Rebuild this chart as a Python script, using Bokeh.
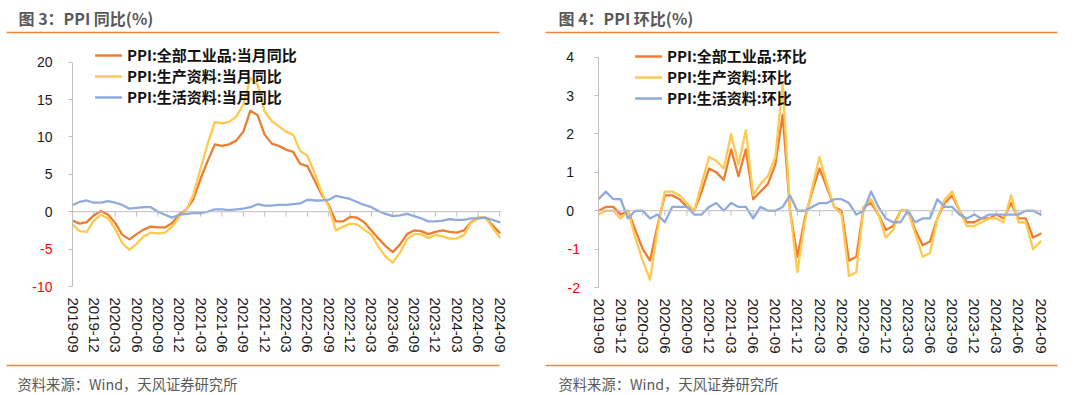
from bokeh.plotting import figure
from bokeh.layouts import row, column
from bokeh.models import (Range1d, FixedTicker, Span, Legend, LegendItem, Label,
                          BoxAnnotation)
from bokeh.embed import file_html
from bokeh.resources import INLINE
from bokeh.core.properties import value

# ---------------- data ----------------
tick_labels = ["2019-09", "2019-12", "2020-03", "2020-06", "2020-09", "2020-12",
               "2021-03", "2021-06", "2021-09", "2021-12", "2022-03", "2022-06",
               "2022-09", "2022-12", "2023-03", "2023-06", "2023-09", "2023-12",
               "2024-03", "2024-06", "2024-09"]

yoy_all = [-1.2, -1.6, -1.4, -0.5, 0.1, -0.4, -1.5, -3.1, -3.7, -3.0,
           -2.4, -2.0, -2.1, -2.1, -1.5, -0.4, 0.3, 1.7, 4.4, 6.8,
           9.0, 8.8, 9.0, 9.5, 10.7, 13.5, 12.9, 10.3, 9.1, 8.8,
           8.3, 8.0, 6.4, 6.1, 4.2, 2.3, 0.9, -1.3, -1.3, -0.7,
           -0.8, -1.4, -2.5, -3.6, -4.6, -5.4, -4.4, -3.0, -2.5, -2.6,
           -3.0, -2.7, -2.5, -2.7, -2.8, -2.5, -1.4, -0.8, -0.8, -1.8, -2.8]
yoy_prod = [-1.7, -2.6, -2.7, -1.2, -0.4, -0.9, -2.3, -4.2, -5.1, -4.3,
            -3.3, -2.8, -2.9, -2.8, -2.0, -0.7, 0.3, 2.3, 5.8, 9.1,
            12.0, 11.8, 12.0, 12.7, 14.3, 17.9, 17.0, 13.4, 12.1, 11.4,
            10.7, 10.3, 8.1, 7.5, 5.2, 2.6, 0.7, -2.5, -2.0, -1.6,
            -1.7, -2.4, -3.1, -4.7, -6.0, -6.8, -5.5, -3.7, -3.0, -3.0,
            -3.5, -3.1, -3.3, -3.6, -3.6, -3.1, -1.5, -0.9, -0.8, -2.1, -3.4]
yoy_cons = [0.9, 1.3, 1.5, 1.2, 1.2, 1.4, 1.2, 0.9, 0.4, 0.5,
            0.6, 0.6, 0.0, -0.4, -0.8, -0.4, -0.3, -0.2, -0.2, 0.0,
            0.3, 0.3, 0.2, 0.3, 0.4, 0.6, 1.0, 0.8, 0.8, 0.9,
            0.9, 1.0, 1.1, 1.6, 1.5, 1.5, 1.6, 2.1, 1.9, 1.7,
            1.3, 0.9, 0.6, 0.1, -0.3, -0.6, -0.5, -0.3, -0.6, -0.9,
            -1.3, -1.3, -1.2, -1.0, -1.1, -1.1, -0.9, -0.9, -0.8, -1.1, -1.4]

mom_all = [0.0, 0.1, 0.1, -0.1, 0.0, -0.5, -1.0, -1.3, -0.4, 0.4,
           0.4, 0.3, 0.1, 0.0, 0.5, 1.1, 1.0, 0.8, 1.6, 0.9,
           1.6, 0.3, 0.5, 0.7, 1.2, 2.5, 0.0, -1.2, -0.2, 0.5,
           1.1, 0.6, 0.1, 0.0, -1.3, -1.2, 0.1, 0.2, -0.1, -0.5,
           -0.4, 0.0, 0.0, -0.5, -0.9, -0.8, -0.2, 0.2, 0.4, 0.0,
           -0.3, -0.3, -0.2, -0.2, -0.1, -0.2, 0.2, -0.2, -0.2, -0.7, -0.6]
mom_prod = [-0.1, 0.0, 0.0, -0.2, 0.0, -0.7, -1.3, -1.8, -0.5, 0.5,
            0.5, 0.4, 0.2, 0.0, 0.7, 1.4, 1.3, 1.1, 2.0, 1.2,
            2.1, 0.4, 0.7, 0.9, 1.4, 3.3, 0.0, -1.6, -0.3, 0.6,
            1.4, 0.7, 0.1, -0.1, -1.7, -1.6, 0.1, 0.3, -0.1, -0.7,
            -0.5, 0.0, 0.0, -0.6, -1.2, -1.1, -0.2, 0.3, 0.5, 0.0,
            -0.4, -0.4, -0.3, -0.2, -0.2, -0.3, 0.4, -0.3, -0.3, -1.0, -0.8]
mom_cons = [0.3, 0.5, 0.3, 0.3, -0.2, 0.0, 0.0, -0.2, -0.1, -0.3,
            0.1, 0.1, 0.1, -0.1, -0.1, 0.1, 0.2, 0.0, 0.2, 0.1,
            0.1, -0.2, 0.1, 0.0, 0.0, 0.1, 0.4, 0.0, 0.0, 0.1,
            0.2, 0.2, 0.3, 0.3, 0.2, -0.1, 0.0, 0.5, 0.1, -0.2,
            -0.3, -0.3, 0.0, -0.3, -0.2, -0.2, 0.3, 0.1, 0.1, -0.1,
            -0.2, -0.1, -0.2, -0.1, -0.1, -0.1, -0.1, -0.1, 0.0, 0.0, -0.1]

yoy_names = ["PPI:全部工业品:当月同比", "PPI:生产资料:当月同比", "PPI:生活资料:当月同比"]
mom_names = ["PPI:全部工业品:环比", "PPI:生产资料:环比", "PPI:生活资料:环比"]
yoy_ticks = [-10, -5, 0, 5, 10, 15, 20]
mom_ticks = [-2, -1, 0, 1, 2, 3, 4]
source_text = "资料来源：Wind，天风证券研究所"

COLORS = ["#ED7D31", "#FFC94F", "#8FAADC"]
ORANGE_RULE = "#F0883A"
GREY = "#595959"
CJK = "Noto Sans CJK SC"
LATIN = "Liberation Sans"

PANEL_W = 540
HEAD_H = 40
MAIN_H = 320
FOOT_H = 35


def blank(width, height):
    p = figure(width=width, height=height, output_backend="svg", toolbar_location=None,
               x_range=Range1d(0, width), y_range=Range1d(height, 0),
               x_axis_type=None, y_axis_type=None, min_border=0,
               outline_line_color=None, border_fill_color="white",
               background_fill_color="white")
    p.grid.visible = False
    return p


def header(title, title_x, rule_l, rule_r):
    p = blank(PANEL_W, HEAD_H)
    p.add_layout(Label(x=title_x, y=17, text=title, text_font=CJK, text_font_size="16px",
                       text_font_style="bold", text_color=GREY,
                       text_align="left", text_baseline="middle"))
    p.add_layout(BoxAnnotation(left=rule_l, right=rule_r, top=31.2, bottom=32.8,
                               fill_color=ORANGE_RULE, fill_alpha=1, line_alpha=0))
    return p


def footer(text_x, rule_l, rule_r):
    p = blank(PANEL_W, FOOT_H)
    p.add_layout(BoxAnnotation(left=rule_l, right=rule_r, top=4.2, bottom=5.8,
                               fill_color=ORANGE_RULE, fill_alpha=1, line_alpha=0))
    p.add_layout(Label(x=text_x, y=23, text=source_text, text_font=CJK,
                       text_font_size="14.3px", text_color=GREY,
                       text_align="left", text_baseline="middle"))
    return p


def chart(series, names, yticks, ylo, ytop, ppu, strip_w, frame_left, frame_w,
          ylo_px, lab_size, pos_right, neg_right, leg_x, leg_top):
    # pixel rows are measured inside this chart block (block starts at page y=HEAD_H)
    frame_top = 0
    pad = 8                                  # frame extends a little below the lowest tick
    frame_bottom = ylo_px + pad
    y0 = ylo - pad / ppu
    y1 = ylo + (ylo_px - frame_top) / ppu
    main_w = PANEL_W - strip_w
    bl = frame_left - strip_w
    br = main_w - bl - frame_w
    bt = frame_top
    bb = MAIN_H - frame_bottom
    n = len(series[0])
    xs = list(range(n))
    ticks = list(range(0, n, 3))
    x_end = frame_w / ((frame_w - 2) / (n - 1))
    yr = Range1d(y0, y1)

    p = figure(width=main_w, height=MAIN_H, output_backend="svg", toolbar_location=None,
               x_range=Range1d(0, x_end), y_range=yr,
               min_border_left=bl, min_border_right=br, min_border_top=bt,
               min_border_bottom=bb, outline_line_color=None,
               background_fill_color="white", border_fill_color="white")
    p.grid.visible = False

    xa = p.xaxis[0]
    xa.ticker = FixedTicker(ticks=ticks)
    xa.major_label_overrides = {t: lab for t, lab in zip(ticks, tick_labels)}
    xa.major_label_orientation = "vertical"
    xa.axis_line_color = None
    xa.major_tick_line_color = None
    xa.minor_tick_line_color = None
    xa.major_tick_out = 0
    xa.major_tick_in = 0
    xa.major_label_standoff = 11 - pad
    xa.major_label_text_font = LATIN
    xa.major_label_text_font_size = "15px"
    xa.major_label_text_color = "#1a1a1a"

    ya = p.yaxis[0]
    ya.ticker = FixedTicker(ticks=yticks)
    ya.bounds = (ylo, ytop)
    ya.major_label_overrides = {t: "" for t in yticks}
    ya.major_label_standoff = 0
    ya.axis_line_color = "#BFBFBF"
    ya.major_tick_line_color = "#BFBFBF"
    ya.minor_tick_line_color = None
    ya.major_tick_out = 4
    ya.major_tick_in = 0

    p.add_layout(Span(location=0, dimension="width", line_color="#BFBFBF", line_width=1))
    tick_len = 5 / ppu
    p.segment(x0=ticks, y0=[0] * len(ticks), x1=ticks, y1=[-tick_len] * len(ticks),
              line_color="#BFBFBF", line_width=1)

    rends = []
    for ys, c in zip(series, COLORS):
        rends.append(p.line(xs, ys, line_color=c, line_width=2.3,
                            line_join="round", line_cap="round"))

    leg = Legend(items=[LegendItem(label=nm, renderers=[r]) for nm, r in zip(names, rends)],
                 location=(leg_x, frame_bottom - (leg_top + 60)), orientation="vertical",
                 glyph_width=27, glyph_height=20, label_height=20, spacing=0,
                 padding=0, margin=0, label_standoff=5,
                 border_line_alpha=0, background_fill_alpha=0,
                 label_text_font=CJK, label_text_font_style="bold",
                 label_text_font_size="15px", label_text_color="#111111")
    p.add_layout(leg)

    # strip carrying the y tick labels (negatives in red), same vertical scale
    s = figure(width=strip_w, height=MAIN_H, output_backend="svg", toolbar_location=None,
               x_range=Range1d(0, strip_w), y_range=yr,
               x_axis_type=None, y_axis_type=None,
               min_border_left=0, min_border_right=0, min_border_top=bt,
               min_border_bottom=bb, outline_line_color=None,
               background_fill_color="white", border_fill_color="white")
    s.grid.visible = False
    pos = [t for t in yticks if t >= 0]
    neg = [t for t in yticks if t < 0]
    s.text(x=[pos_right] * len(pos), y=pos, text=[str(t) for t in pos],
           text_color="#1a1a1a", text_align="right", text_baseline="middle",
           text_font=value(LATIN), text_font_size=value(lab_size))
    s.text(x=[neg_right] * len(neg), y=neg, text=[str(t) for t in neg],
           text_color="#FF0000", text_align="right", text_baseline="middle",
           text_font=value(LATIN), text_font_size=value(lab_size))
    return row(s, p, spacing=0)


# left panel: -10 at page y=286, 20 at 61.6; axis at x=72; legend top at page y=47
left_chart = chart([yoy_all, yoy_prod, yoy_cons], yoy_names, yoy_ticks, -10, 20,
                   224.4 / 30, 60, 72, 429, 246, "14px", 52, 52, 23, 7)
left = column(header("图 3：PPI 同比(%)", 18, 6, 499), left_chart,
              footer(17, 6, 499), spacing=0)

# right panel: -2 at page y=287, 4 at 56.7; axis at x=598; legend top at page y=48
right_chart = chart([mom_all, mom_prod, mom_cons], mom_names, mom_ticks, -2, 4,
                    230.3 / 6, 49, 58, 444, 247, "14px", 33.5, 39.5, 37, 8)
right = column(header("图 4：PPI 环比(%)", 18, 5, 517), right_chart,
               footer(18, 5, 517), spacing=0)

layout = row(left, right, spacing=0)
open("out.html", "w").write(file_html(layout, INLINE))
